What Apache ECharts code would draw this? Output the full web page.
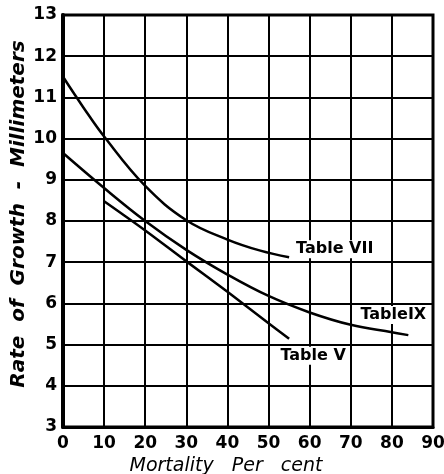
<!DOCTYPE html>
<html>
<head>
<meta charset="utf-8">
<script src="https://cdn.jsdelivr.net/npm/echarts@6/dist/echarts.min.js"></script>
<style>
html,body{margin:0;padding:0;background:#fff;}
#chart{width:444px;height:474px;}
</style>
</head>
<body>
<div id="chart"></div>
<script>
// 数据
var tableVII = [[0,11.5],[5,10.75],[10,10.05],[20,8.85],[30,8.02],[40,7.55],[48,7.28],[55,7.12]];
var tableIX = [[0,9.65],[10,8.8],[20,8.0],[30,7.3],[40,6.7],[50,6.18],[60,5.78],[70,5.48],[80,5.3],[84,5.23]];
var tableV = [[10,8.48],[20,7.77],[30,7.02],[40,6.28],[50,5.52],[55,5.14]];
var xTicks = [0,10,20,30,40,50,60,70,80,90];
var yTicks = [3,4,5,6,7,8,9,10,11,12,13];

var font = '"DejaVu Sans", sans-serif';

function withLabel(arr, text, pos, offset) {
	var out = arr.map(function (p) { return p.slice(); });
	var last = out.pop();
	out.push({
		value: last,
		label: {
			show: true,
			position: pos,
			offset: offset,
			formatter: text,
			color: '#000',
			fontFamily: font,
			fontWeight: 'bold',
			fontSize: 16,
			backgroundColor: '#fff',
			padding: [1, 2]
		}
	});
	return out;
}

var myChart = echarts.init(document.getElementById('chart'));
var lineStyle = { color: '#000', width: 2.5 };
var option = {
	animation: false,
	backgroundColor: '#fff',
	grid: {
		left: 63,
		right: 11,
		top: 15,
		bottom: 47,
		containLabel: false,
		outerBoundsMode: 'none',
		show: true,
		borderColor: '#000',
		borderWidth: 3,
		z: 3
	},
	xAxis: {
		type: 'value',
		min: xTicks[0],
		max: xTicks[xTicks.length - 1],
		interval: 10,
		name: 'Mortality   Per   cent',
		nameLocation: 'middle',
		nameGap: 30,
		nameTextStyle: {
			color: '#000',
			fontFamily: font,
			fontStyle: 'italic',
			fontSize: 19,
			padding: [0, 44, 0, 0]
		},
		axisLine: { lineStyle: { color: '#000', width: 3 } },
		axisTick: { show: false },
		axisLabel: { color: '#000', fontFamily: font, fontWeight: 'bold', fontSize: 17, margin: 8 },
		splitLine: { lineStyle: { color: '#000', width: 2 } }
	},
	yAxis: {
		type: 'value',
		min: yTicks[0],
		max: yTicks[yTicks.length - 1],
		interval: 1,
		name: 'Rate  of  Growth  -  Millimeters',
		nameLocation: 'middle',
		nameGap: 34,
		nameMoveOverlap: false,
		nameTextStyle: {
			color: '#000',
			fontFamily: font,
			fontStyle: 'italic',
			fontWeight: 'bold',
			fontSize: 20,
			padding: [0, 0, 0, 14]
		},
		axisLine: { show: true, lineStyle: { color: '#000', width: 4 } },
		axisTick: { show: false },
		axisLabel: { color: '#000', fontFamily: font, fontWeight: 'bold', fontSize: 17, margin: 6 },
		splitLine: { lineStyle: { color: '#000', width: 2 } }
	},
	series: [
		{
			name: 'Table VII',
			type: 'line',
			smooth: 0.4,
			symbol: 'circle',
			symbolSize: 0,
			lineStyle: lineStyle,
			itemStyle: { color: '#000' },
			data: withLabel(tableVII, 'Table VII', 'right', [0, -8])
		},
		{
			name: 'Table IX',
			type: 'line',
			smooth: 0.4,
			symbol: 'circle',
			symbolSize: 0,
			lineStyle: lineStyle,
			itemStyle: { color: '#000' },
			data: withLabel(tableIX, 'TableIX', 'top', [-15, -6])
		},
		{
			name: 'Table V',
			type: 'line',
			smooth: 0.3,
			symbol: 'circle',
			symbolSize: 0,
			lineStyle: lineStyle,
			itemStyle: { color: '#000' },
			data: withLabel(tableV, 'Table V', 'bottom', [24, 3])
		}
	]
};
myChart.setOption(option, true);
</script>
</body>
</html>
